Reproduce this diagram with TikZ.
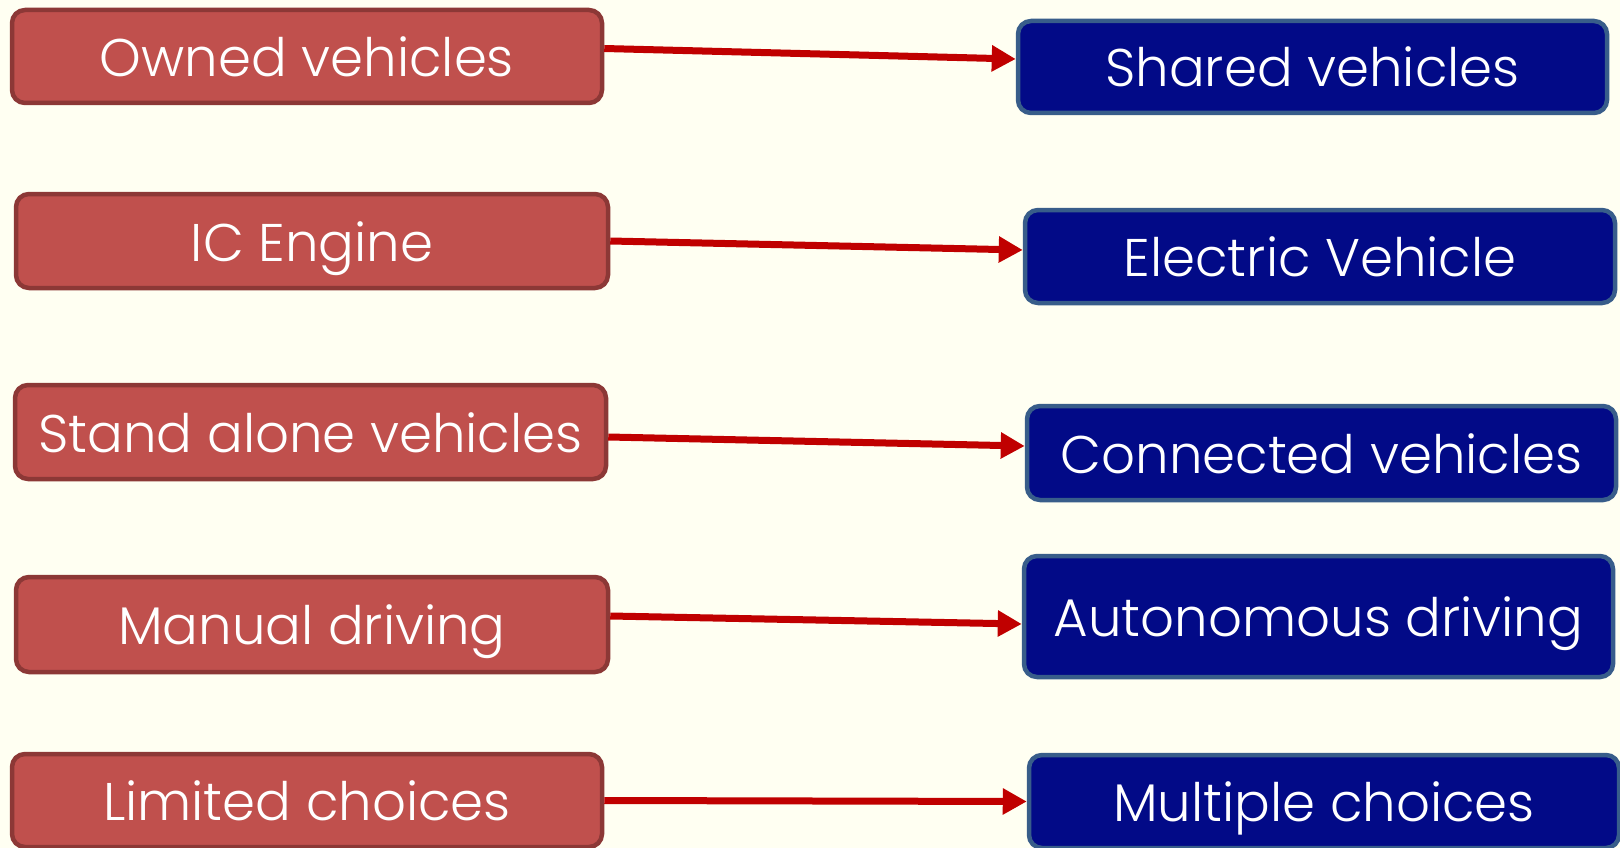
\documentclass[tikz,border=0pt]{standalone}
\usepackage{fontspec}
\setmainfont{Poppins}[UprightFont={* Light}]
\usetikzlibrary{arrows.meta}

\definecolor{oldfill}{HTML}{C0504D}
\definecolor{oldline}{HTML}{8C3836}
\definecolor{newfill}{HTML}{020A87}
\definecolor{newline}{HTML}{385D8A}
\definecolor{arrowred}{HTML}{C00000}
\definecolor{paper}{HTML}{FFFFF2}

\begin{document}
\begin{tikzpicture}[x=1pt,y=-1pt,
  oldbox/.style={draw=oldline, fill=oldfill, line width=4.5pt, rounded corners=13pt,
    minimum width=590pt, minimum height=93pt, text=white, inner sep=0pt,
    text height=40pt, text depth=0pt,
    font=\fontsize{53}{60}\selectfont},
  newbox/.style={oldbox, draw=newline, fill=newfill},
  shiftarrow/.style={-{Triangle[length=24pt,width=25pt]}, arrowred, line width=7pt}]

\fill [paper] (0,0) rectangle (1620,848);
\useasboundingbox (0,0) rectangle (1620,848);

% left column
\node [oldbox] (owned) at (307,56.5) {Owned vehicles};
\node [oldbox, minimum width=592pt, minimum height=94pt] (ice) at (312,241) {IC Engine};
\node [oldbox, minimum width=591pt, minimum height=94pt] (alone) at (310.5,432) {Stand alone vehicles};
\node [oldbox, minimum width=592pt, minimum height=95pt] (manual) at (312,624.5) {Manual driving};
\node [oldbox] (limited) at (307,800.5) {Limited choices};

% right column
\node [newbox, minimum width=589pt, minimum height=92pt] (shared) at (1312.5,67) {Shared vehicles};
\node [newbox] (electric) at (1320,256.5) {Electric Vehicle};
\node [newbox, minimum width=589pt, minimum height=94pt] (connected) at (1321.5,453) {Connected vehicles};
\node [newbox, minimum width=589pt, minimum height=121pt] (auto) at (1318.5,616.5) {Autonomous driving};
\node [newbox, minimum width=590pt] (multiple) at (1324,801.5) {Multiple choices};

% arrows
\draw [shiftarrow] ([yshift=8pt]owned.east) -- ([yshift=8pt]shared.west);
\draw [shiftarrow] (ice.east) -- ([yshift=6.5pt]electric.west);
\draw [shiftarrow] ([yshift=-5pt]alone.east) -- ([yshift=7pt]connected.west);
\draw [shiftarrow] ([yshift=8.5pt]manual.east) -- ([yshift=-7.5pt]auto.west);
\draw [shiftarrow] (limited.east) -- (multiple.west);

\end{tikzpicture}
\end{document}
